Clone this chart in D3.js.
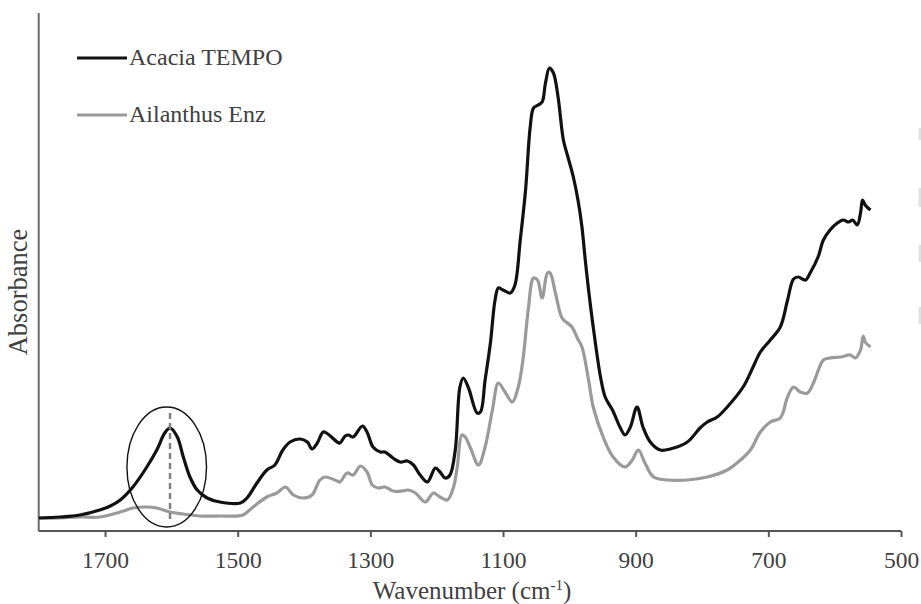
<!DOCTYPE html>
<html>
<head>
<meta charset="utf-8">
<script src="https://cdn.jsdelivr.net/npm/d3@7/dist/d3.min.js"></script>
<style>
  html, body { margin: 0; padding: 0; background: #fff; }
  svg { display: block; }
  text { font-family: "Liberation Serif", "Times New Roman", serif; }
</style>
</head>
<body>
<svg id="chart" width="921" height="604"></svg>
<script>
// FTIR spectra: wavenumber (cm-1) and absorbance (arbitrary units)
const acaciaWavenumber = [1800,1768,1738,1708,1692,1677,1658,1637,1622,1610,1602,1591,1582,1572,1561,1546,1527,1496,1486,1471,1456,1444,1432,1421,1406,1395,1388,1380,1371,1364,1350,1346,1338,1333,1326,1312,1305,1296,1285,1278,1266,1255,1244,1235,1225,1214,1202,1195,1187,1180,1172,1165,1160,1152,1139,1134,1127,1119,1112,1107,1100,1089,1082,1074,1066,1059,1054,1047,1041,1036,1030,1024,1017,1009,1003,994,987,981,976,971,964,953,946,935,923,916,908,898,889,878,863,848,822,803,792,777,762,738,723,712,697,682,671,662,655,644,637,625,617,607,596,587,579,573,566,561,558,554,546];
const acaciaAbsorbance = [0.026,0.028,0.032,0.042,0.050,0.062,0.088,0.128,0.162,0.196,0.206,0.188,0.148,0.108,0.082,0.066,0.058,0.056,0.066,0.096,0.122,0.132,0.162,0.178,0.184,0.178,0.164,0.176,0.198,0.194,0.178,0.176,0.190,0.192,0.188,0.210,0.198,0.168,0.158,0.158,0.146,0.138,0.140,0.132,0.112,0.098,0.126,0.118,0.106,0.112,0.162,0.288,0.306,0.286,0.236,0.238,0.302,0.376,0.462,0.486,0.482,0.476,0.492,0.582,0.682,0.808,0.846,0.852,0.858,0.896,0.926,0.916,0.868,0.782,0.752,0.708,0.662,0.608,0.542,0.482,0.408,0.308,0.268,0.242,0.206,0.192,0.208,0.248,0.208,0.178,0.162,0.164,0.178,0.206,0.218,0.228,0.248,0.288,0.328,0.358,0.382,0.408,0.462,0.504,0.508,0.502,0.516,0.548,0.582,0.602,0.616,0.622,0.618,0.622,0.612,0.636,0.662,0.652,0.642];

const ailanthusWavenumber = [1800,1768,1738,1708,1677,1658,1637,1622,1602,1582,1557,1527,1492,1477,1456,1441,1428,1416,1401,1388,1376,1368,1350,1346,1335,1326,1315,1305,1297,1288,1278,1266,1252,1243,1232,1217,1205,1195,1184,1175,1169,1162,1157,1149,1137,1127,1116,1107,1097,1086,1077,1070,1062,1054,1048,1041,1033,1029,1021,1011,1003,996,988,981,971,964,949,934,916,905,896,886,873,852,822,792,762,742,727,712,697,682,671,662,652,641,632,617,607,591,576,569,561,557,554,546];
const ailanthusAbsorbance = [0.026,0.026,0.028,0.028,0.038,0.046,0.048,0.046,0.038,0.034,0.030,0.030,0.032,0.048,0.068,0.076,0.088,0.072,0.066,0.072,0.102,0.108,0.100,0.098,0.116,0.112,0.130,0.118,0.092,0.086,0.088,0.080,0.080,0.082,0.076,0.058,0.076,0.068,0.062,0.086,0.128,0.192,0.188,0.166,0.132,0.168,0.242,0.296,0.278,0.258,0.288,0.342,0.442,0.506,0.502,0.466,0.516,0.516,0.476,0.426,0.416,0.408,0.386,0.368,0.302,0.248,0.188,0.148,0.128,0.142,0.162,0.136,0.108,0.102,0.102,0.108,0.122,0.142,0.162,0.198,0.218,0.226,0.268,0.288,0.278,0.276,0.296,0.342,0.346,0.348,0.352,0.346,0.362,0.390,0.378,0.368];

const seriesNames = ["Acacia TEMPO", "Ailanthus Enz"];
const seriesColors = ["#111111", "#9a9a9a"];
const xTicks = [1700, 1500, 1300, 1100, 900, 700, 500];

// Highlighted carboxyl band (~1600 cm-1)
const bandCenter = 1607, bandHalfWidth = 60;
const bandAbsCenter = 0.128, bandAbsHalf = 0.12;
const bandLine = 1602, bandLineTop = 0.236, bandLineBottom = 0.022;

(function draw() {
  const svg = d3.select("#chart");
  const plotLeft = 38.7, plotRight = 901, plotTop = 13, plotBottom = 531;

  const x = d3.scaleLinear().domain([1800, 500]).range([plotLeft, plotRight]);
  const y = d3.scaleLinear().domain([0, 1.036]).range([plotBottom, plotTop]);

  // faint marks along the right edge
  [[128, 140], [188, 207], [245, 262], [307, 324]].forEach(([a, b]) => {
    svg.append("rect").attr("x", 918.5).attr("y", a).attr("width", 2.5).attr("height", b - a)
      .attr("fill", "#e2e2e2");
  });

  // Y axis line (no ticks)
  svg.append("line").attr("x1", plotLeft).attr("x2", plotLeft).attr("y1", plotTop).attr("y2", plotBottom)
    .attr("stroke", "#6b6b6b").attr("stroke-width", 2);

  // X axis
  const xAxis = d3.axisBottom(x).tickValues(xTicks).tickSize(6).tickSizeOuter(0).tickPadding(14)
    .tickFormat(d3.format("d"));
  const gx = svg.append("g").attr("transform", `translate(0,${plotBottom})`).call(xAxis);
  gx.attr("font-family", null);
  gx.select(".domain").attr("stroke", "#555").attr("stroke-width", 2)
    .attr("d", `M${plotLeft},0H${plotRight}`);
  gx.selectAll(".tick line").attr("stroke", "#555").attr("stroke-width", 2);
  gx.selectAll(".tick text").attr("fill", "#404040").style("font-size", "23.5px")
    .style("font-family", "'Liberation Serif', serif");

  // Axis titles
  const xt = svg.append("text").attr("x", 472).attr("y", 599).attr("text-anchor", "middle")
    .attr("fill", "#404040").style("font-size", "25px");
  xt.append("tspan").text("Wavenumber (cm");
  xt.append("tspan").attr("dy", -9).style("font-size", "15px").text("-1");
  xt.append("tspan").attr("dy", 9).text(")");

  svg.append("text").attr("transform", "translate(27,292) rotate(-90)").attr("text-anchor", "middle")
    .attr("fill", "#404040").style("font-size", "26.5px").text("Absorbance");

  // Spectra
  const line = d3.line().x(d => x(d[0])).y(d => y(d[1])).curve(d3.curveCatmullRom.alpha(0.5));
  const ailanthus = ailanthusWavenumber.map((w, i) => [w, ailanthusAbsorbance[i]]);
  const acacia = acaciaWavenumber.map((w, i) => [w, acaciaAbsorbance[i]]);

  svg.append("path").datum(ailanthus).attr("d", line).attr("fill", "none")
    .attr("stroke", seriesColors[1]).attr("stroke-width", 3.2).attr("stroke-linejoin", "round");
  svg.append("path").datum(acacia).attr("d", line).attr("fill", "none")
    .attr("stroke", seriesColors[0]).attr("stroke-width", 3.2).attr("stroke-linejoin", "round");

  // Band marker: dashed line and ellipse
  svg.append("line").attr("x1", x(bandLine)).attr("x2", x(bandLine))
    .attr("y1", y(bandLineTop)).attr("y2", y(bandLineBottom))
    .attr("stroke", "#808080").attr("stroke-width", 2.5).attr("stroke-dasharray", "6,4");
  svg.append("ellipse").attr("cx", x(bandCenter)).attr("cy", y(bandAbsCenter))
    .attr("rx", Math.abs(x(bandCenter + bandHalfWidth) - x(bandCenter)))
    .attr("ry", Math.abs(y(bandAbsCenter + bandAbsHalf) - y(bandAbsCenter)))
    .attr("fill", "none").attr("stroke", "#111").attr("stroke-width", 1.4);

  // Legend
  const legendY = [58, 115];
  seriesNames.forEach((name, i) => {
    const g = svg.append("g");
    g.append("line").attr("x1", 77).attr("x2", 127).attr("y1", legendY[i]).attr("y2", legendY[i])
      .attr("stroke", seriesColors[i]).attr("stroke-width", 3.2);
    g.append("text").attr("x", 129).attr("y", legendY[i] + 7).attr("fill", "#404040")
      .style("font-size", "24px").text(name);
  });
})();
</script>
</body>
</html>
